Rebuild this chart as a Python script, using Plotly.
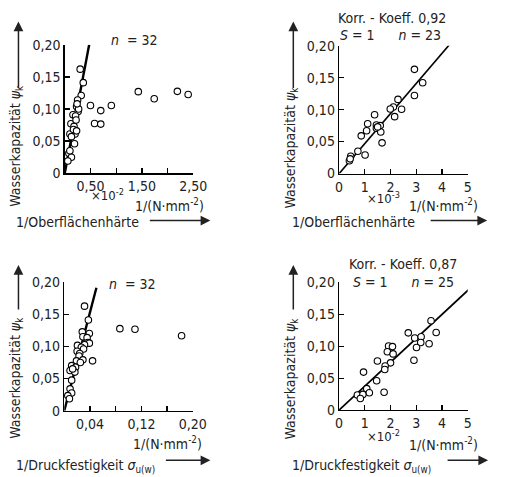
import plotly.graph_objects as go

W, H = 505, 477
FONT = "Liberation Sans Narrow, DejaVu Sans Condensed, Arial Narrow, sans-serif"

# ---------------- data ----------------
# Panel 1: 1/Oberflächenhärte (x10^-2) vs Wasserkapazität, n = 32
p1_x = [0.30, 0.36, 0.32, 0.25, 0.23, 0.26, 0.16, 0.21, 0.12, 0.18, 0.20, 0.10, 0.13, 0.19,
        0.08, 0.13, 0.06, 0.27, 0.22, 0.17, 0.23, 0.10, 0.24,
        0.50, 0.906, 0.70, 0.58, 0.70,
        1.43, 1.74, 2.19, 2.40]
p1_y = [0.162, 0.141, 0.121, 0.114, 0.104, 0.096, 0.091, 0.089, 0.077, 0.073, 0.061, 0.061, 0.057, 0.046,
        0.031, 0.025, 0.019, 0.100, 0.083, 0.068, 0.066, 0.035, 0.108,
        0.1055, 0.1055, 0.0975, 0.0775, 0.0765,
        0.127, 0.116, 0.1275, 0.1225]
p1_line_x = [0.0, 0.475]
p1_line_y = [0.0, 0.200]

# Panel 2: 1/Oberflächenhärte (x10^-3), n = 23
p2_x = [2.93, 3.25, 2.93, 2.29, 2.11, 1.99, 2.43, 2.16, 1.38, 1.11, 1.45, 1.60, 1.45, 1.07,
        1.62, 0.86, 1.67, 0.73, 1.01, 0.45, 0.40, 1.50, 0.43]
p2_y = [0.163, 0.142, 0.122, 0.116, 0.104, 0.101, 0.1005, 0.089, 0.092, 0.078, 0.076, 0.075, 0.071, 0.067,
        0.065, 0.059, 0.048, 0.035, 0.029, 0.027, 0.020, 0.073, 0.023]
p2_line_x = [0.0, 4.28]
p2_line_y = [0.0, 0.201]

# Panel 3: 1/Druckfestigkeit, n = 32
p3_x = [0.0315, 0.0375, 0.028, 0.039, 0.029, 0.0355, 0.0365, 0.039, 0.0205, 0.0315, 0.0265, 0.030,
        0.020, 0.024, 0.023, 0.029, 0.019, 0.025, 0.0115, 0.0175, 0.009, 0.0165, 0.0115, 0.009,
        0.0115, 0.0055, 0.008, 0.044, 0.013,
        0.0865, 0.110, 0.1825]
p3_y = [0.1625, 0.141, 0.1225, 0.120, 0.115, 0.1135, 0.106, 0.105, 0.1015, 0.1025, 0.0985, 0.096,
        0.0925, 0.089, 0.085, 0.079, 0.0775, 0.075, 0.070, 0.0675, 0.0625, 0.060, 0.0475, 0.034,
        0.0275, 0.0235, 0.0185, 0.0775, 0.065,
        0.1275, 0.1265, 0.1165]
p3_line_x = [0.0, 0.050]
p3_line_y = [0.0, 0.191]

# Panel 4: 1/Druckfestigkeit (x10^-2), n = 25
p4_x = [3.575, 2.69, 3.775, 2.94, 3.19, 3.175, 3.50, 3.01, 1.925, 2.075, 1.875, 2.10, 2.91,
        1.49, 2.00, 1.79, 1.775, 0.95, 1.46, 0.71, 0.925, 1.075, 1.175, 0.825, 1.75]
p4_y = [0.140, 0.121, 0.1215, 0.113, 0.115, 0.106, 0.104, 0.098, 0.1005, 0.0995, 0.0915, 0.088, 0.078,
        0.077, 0.074, 0.069, 0.0635, 0.0595, 0.046, 0.0235, 0.0245, 0.0335, 0.027, 0.018, 0.028]
p4_line_x = [0.0, 5.07]
p4_line_y = [0.0, 0.190]

y_ticks = [0, 0.05, 0.10, 0.15, 0.20]
y_ticktext = ["0", "0,05", "0,10", "0,15", "0,20"]
x1_ticks = [0.5, 1.0, 1.5, 2.0, 2.5]
x1_ticktext = ["0,50", " ", "1,50", " ", "2,50"]
x3_ticks = [0.04, 0.08, 0.12, 0.16, 0.20]
x3_ticktext = ["0,04", " ", "0,12", " ", "0,20"]
x24_ticks = [0, 1, 2, 3, 4, 5]
x24_ticktext = ["0", "1", "2", "3", "4", "5"]


def px(x):
    return x / W


def py(y):
    return 1 - y / H


fig = go.Figure()

panels = [
    (p1_x, p1_y, p1_line_x, p1_line_y, "x", "y", 2.4),
    (p2_x, p2_y, p2_line_x, p2_line_y, "x2", "y2", 1.7),
    (p3_x, p3_y, p3_line_x, p3_line_y, "x3", "y3", 2.4),
    (p4_x, p4_y, p4_line_x, p4_line_y, "x4", "y4", 1.7),
]
for xs, ys, lx, ly, xa, ya, lw in panels:
    fig.add_trace(go.Scatter(x=lx, y=ly, mode="lines", line=dict(color="black", width=lw),
                             xaxis=xa, yaxis=ya, showlegend=False, cliponaxis=False, hoverinfo="skip"))
    fig.add_trace(go.Scatter(x=xs, y=ys, mode="markers",
                             marker=dict(symbol="circle", size=6.5, color="white",
                                         line=dict(color="black", width=1.1)),
                             xaxis=xa, yaxis=ya, showlegend=False, cliponaxis=False))

axis_common = dict(showline=True, linecolor="black", linewidth=1.4, ticks="inside", ticklen=5,
                   tickwidth=1.3, tickcolor="black", showgrid=False, zeroline=False, mirror=False,
                   tickfont=dict(family=FONT, size=14, color="#222"), fixedrange=True)

# domains from pixel positions
d1x = [px(63), px(196.3)]
d1y = [py(171), py(38)]
d2x = [px(347.5), px(480.8)]
d2y = [py(171.3), py(39)]
d3x = [px(62.5), px(195.8)]
d3y = [py(416.7), py(283.5)]
d4x = [px(347.5), px(480.8)]
d4y = [py(416), py(284)]

fig.update_layout(
    xaxis=dict(domain=d1x, range=[0, 2.5], tickvals=x1_ticks, ticktext=x1_ticktext, anchor="y", **axis_common),
    yaxis=dict(domain=d1y, range=[0, 0.2], tickvals=y_ticks, ticktext=y_ticktext, anchor="x", **axis_common),
    xaxis2=dict(domain=d2x, range=[0, 5], tickvals=x24_ticks, ticktext=x24_ticktext, anchor="y2", **axis_common),
    yaxis2=dict(domain=d2y, range=[0, 0.2], tickvals=y_ticks, ticktext=y_ticktext, anchor="x2", **axis_common),
    xaxis3=dict(domain=d3x, range=[0, 0.2], tickvals=x3_ticks, ticktext=x3_ticktext, anchor="y3", **axis_common),
    yaxis3=dict(domain=d3y, range=[0, 0.2], tickvals=y_ticks, ticktext=y_ticktext, anchor="x3", **axis_common),
    xaxis4=dict(domain=d4x, range=[0, 5], tickvals=x24_ticks, ticktext=x24_ticktext, anchor="y4", **axis_common),
    yaxis4=dict(domain=d4y, range=[0, 0.2], tickvals=y_ticks, ticktext=y_ticktext, anchor="x4", **axis_common),
    width=W, height=H, margin=dict(l=0, r=0, t=0, b=0),
    paper_bgcolor="white", plot_bgcolor="white",
    font=dict(family=FONT, size=14, color="#222"),
)

ann = []


def txt(x, y, text, size=14, xanchor="center", yanchor="middle", angle=0):
    ann.append(dict(x=px(x), y=py(y), xref="paper", yref="paper", text=text, showarrow=False,
                    xanchor=xanchor, yanchor=yanchor, textangle=angle,
                    font=dict(family=FONT, size=size, color="#222")))


def arrow(x0, y0, x1, y1):
    # tail (x0,y0) -> head (x1,y1) in pixels
    ann.append(dict(x=px(x1), y=py(y1), xref="paper", yref="paper", ax=x0 - x1, ay=y0 - y1,
                    axref="pixel", ayref="pixel", text="", showarrow=True, arrowhead=2,
                    arrowsize=1.3, arrowwidth=1.5, arrowcolor="#222", standoff=0, startstandoff=0))


ylab = "Wasserkapazität <i>ψ</i><sub>k</sub>"
unit = "1/(N·mm<sup>-2</sup>)"

# Panel 1
txt(135, 33, "<i>n</i>  = 32")
txt(13, 143, ylab, angle=-90)
arrow(15, 82, 15, 14)
txt(107, 194, "×10<sup>-2</sup>", size=13)
txt(172, 204, unit)
txt(10, 221, "1/Oberflächenhärte", xanchor="left")
arrow(152, 220, 214, 220)

# Panel 2
txt(402, 10, "Korr. - Koeff. 0,92")
txt(401, 28, "<i>S</i> = 1      <i>n</i> = 23")
txt(298, 144, ylab, angle=-90)
arrow(300, 82, 300, 14)
txt(394, 197, "×10<sup>-3</sup>", size=13)
txt(456, 204, unit)
txt(297, 221, "1/Oberflächenhärte", xanchor="left")
arrow(443, 220, 501, 220)

# Panel 3
txt(133, 286, "<i>n</i>  = 32")
txt(13, 383, ylab, angle=-90)
arrow(15, 312, 15, 266)
txt(170, 450, unit)
txt(10, 474, "1/Druckfestigkeit <i>σ</i><sub>u(w)</sub>", xanchor="left")
arrow(168, 468, 214, 468)

# Panel 4
txt(414, 265, "Korr. - Koeff. 0,87")
txt(414, 283, "<i>S</i> = 1      <i>n</i> = 25")
txt(298, 383, ylab, angle=-90)
arrow(300, 312, 300, 266)
txt(394, 443, "×10<sup>-2</sup>", size=13)
txt(456, 451, unit)
txt(297, 474, "1/Druckfestigkeit <i>σ</i><sub>u(w)</sub>", xanchor="left")
arrow(460, 468, 502, 468)

fig.update_layout(annotations=ann)
fig.write_html("out.html", config={"displayModeBar": False, "staticPlot": True},
               post_script="document.body.style.margin='0';document.body.style.overflow='hidden';")
